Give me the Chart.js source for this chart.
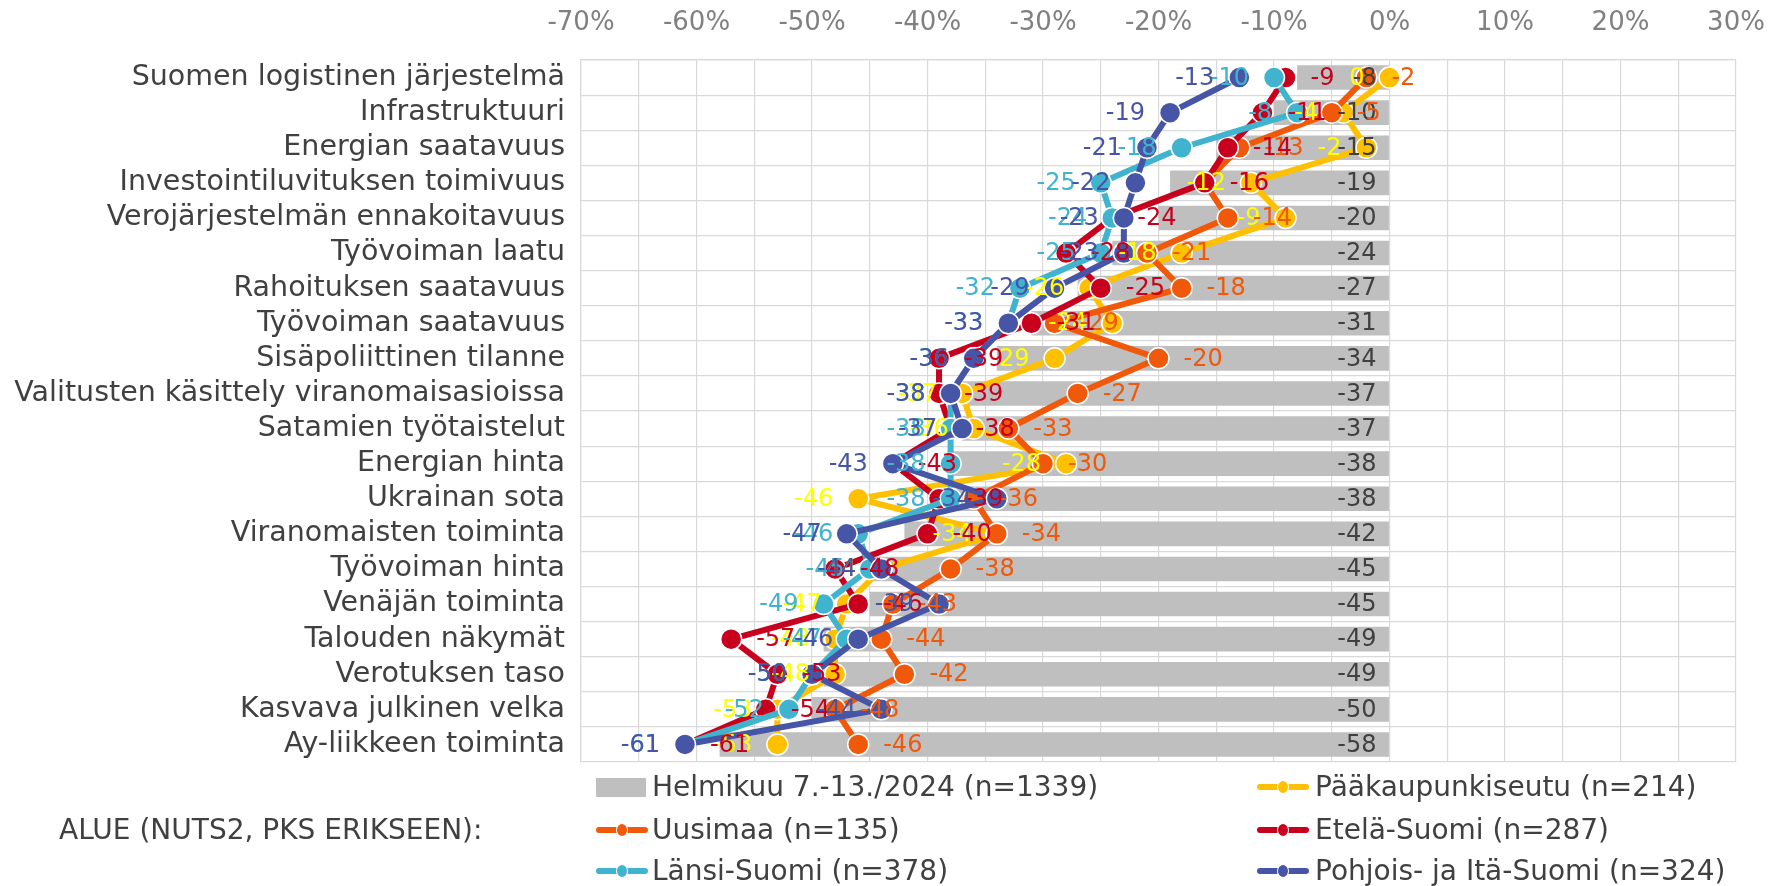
<!DOCTYPE html>
<html>
<head>
<meta charset="utf-8">
<script src="https://cdn.jsdelivr.net/npm/chart.js@4.4.1/dist/chart.umd.min.js"></script>
<style>
html,body{margin:0;padding:0;background:#ffffff;}
#wrap{position:relative;width:1770px;height:886px;overflow:hidden;}
#c{position:absolute;left:0;top:0;}
.lt{position:absolute;font-family:"DejaVu Sans";font-size:28px;color:#404040;white-space:nowrap;line-height:32px;height:32px;}
.mk{position:absolute;}
</style>
</head>
<body>
<div id="wrap">
<canvas id="c" width="1770" height="886"></canvas>
</div>
<script>
// ---- data ----
const categories = [
  "Suomen logistinen järjestelmä",
  "Infrastruktuuri",
  "Energian saatavuus",
  "Investointiluvituksen toimivuus",
  "Verojärjestelmän ennakoitavuus",
  "Työvoiman laatu",
  "Rahoituksen saatavuus",
  "Työvoiman saatavuus",
  "Sisäpoliittinen tilanne",
  "Valitusten käsittely viranomaisasioissa",
  "Satamien työtaistelut",
  "Energian hinta",
  "Ukrainan sota",
  "Viranomaisten toiminta",
  "Työvoiman hinta",
  "Venäjän toiminta",
  "Talouden näkymät",
  "Verotuksen taso",
  "Kasvava julkinen velka",
  "Ay-liikkeen toiminta"
];
const totalValues    = [-8, -10, -15, -19, -20, -24, -27, -31, -34, -37, -37, -38, -38, -42, -45, -45, -49, -49, -50, -58];
const pksValues      = [0, -4, -2, -12, -9, -18, -26, -24, -29, -37, -36, -28, -46, -34, -44, -47, -48, -48, -53, -53];
const uusimaaValues  = [-2, -5, -13, -16, -14, -21, -18, -29, -20, -27, -33, -30, -36, -34, -38, -43, -44, -42, -48, -46];
const etelaValues    = [-9, -11, -14, -16, -24, -28, -25, -31, -39, -39, -38, -43, -39, -40, -48, -46, -57, -53, -54, -61];
const lansiValues    = [-10, -8, -18, -25, -24, -25, -32, -33, -36, -38, -38, -38, -38, -46, -45, -49, -47, -50, -52, -61];
const pohjoisValues  = [-13, -19, -21, -22, -23, -23, -29, -33, -36, -38, -37, -43, -34, -47, -44, -39, -46, -50, -44, -61];
const seriesNames = [
  "Helmikuu 7.-13./2024 (n=1339)",
  "Pääkaupunkiseutu (n=214)",
  "Uusimaa (n=135)",
  "Etelä-Suomi (n=287)",
  "Länsi-Suomi (n=378)",
  "Pohjois- ja Itä-Suomi (n=324)"
];
const legendCaption = "ALUE (NUTS2, PKS ERIKSEEN):";
const xTickLabels = [-70, -60, -50, -40, -30, -20, -10, 0, 10, 20, 30];

// ---- styles ----
const FONT = '"DejaVu Sans"';
const colBar = '#BFBFBF';
const lineStyles = [
  {data: pksValues,     color: '#FFC000', label: '#FFFF00', side: 'left',  order: 5},
  {data: uusimaaValues, color: '#F0580A', label: '#F0580A', side: 'right', order: 4},
  {data: etelaValues,   color: '#C8001E', label: '#C8001E', side: 'right', order: 3},
  {data: lansiValues,   color: '#40B3CE', label: '#40B3CE', side: 'left',  order: 2},
  {data: pohjoisValues, color: '#4655A5', label: '#4655A5', side: 'left',  order: 1}
];

const datasets = [{
  type: 'bar',
  label: seriesNames[0],
  data: totalValues,
  backgroundColor: colBar,
  borderWidth: 0,
  barPercentage: 0.7,
  categoryPercentage: 1,
  order: 10
}];
lineStyles.forEach((s, k) => {
  datasets.push({
    type: 'line',
    label: seriesNames[k + 1],
    data: s.data,
    borderColor: s.color,
    backgroundColor: s.color,
    borderWidth: 6,
    borderJoinStyle: 'round',
    borderCapStyle: 'round',
    pointRadius: 10.5,
    pointBackgroundColor: s.color,
    pointBorderColor: '#ffffff',
    pointBorderWidth: 1.5,
    tension: 0,
    fill: false,
    order: s.order,
    labelColor: s.label,
    labelSide: s.side
  });
});

const valueLabels = {
  id: 'valueLabels',
  afterDatasetsDraw(chart) {
    const ctx = chart.ctx;
    const xs = chart.scales.x;
    ctx.save();
    ctx.font = '24px ' + FONT;
    ctx.textBaseline = 'middle';
    chart.data.datasets.forEach((ds, di) => {
      const meta = chart.getDatasetMeta(di);
      meta.data.forEach((el, i) => {
        const txt = String(ds.data[i]);
        if (ds.type === 'bar') {
          ctx.fillStyle = '#404040';
          ctx.textAlign = 'right';
          ctx.fillText(txt, xs.getPixelForValue(0) - 13, el.y + 1);
        } else {
          ctx.fillStyle = ds.labelColor;
          if (ds.labelSide === 'left') {
            ctx.textAlign = 'right';
            ctx.fillText(txt, el.x - 25, el.y + 1);
          } else {
            ctx.textAlign = 'left';
            ctx.fillText(txt, el.x + 25, el.y + 1);
          }
        }
      });
    });
    ctx.restore();
  }
};

new Chart(document.getElementById('c'), {
  data: {labels: categories, datasets: datasets},
  options: {
    indexAxis: 'y',
    responsive: false,
    animation: false,
    devicePixelRatio: 1,
    layout: {padding: {left: 0, right: 34, top: 0, bottom: 124}},
    plugins: {legend: {display: false}, tooltip: {enabled: false}},
    scales: {
      x: {
        type: 'linear',
        position: 'top',
        min: -70, max: 30,
        afterFit(scale) { scale.height = 60; scale.paddingLeft = 0; scale.paddingRight = 0; },
        ticks: {
          stepSize: 5,
          autoSkip: false,
          maxRotation: 0,
          padding: 21,
          color: '#808080',
          font: {family: FONT, size: 26},
          callback: (v) => xTickLabels.includes(v) ? v + '%' : ''
        },
        grid: {color: '#D9D9D9', lineWidth: 1.2, drawTicks: false},
        border: {color: '#D9D9D9', width: 1.2}
      },
      y: {
        type: 'category',
        afterFit(scale) { scale.width = 581; scale.paddingTop = 0; scale.paddingBottom = 0; },
        ticks: {
          autoSkip: false,
          padding: 16,
          color: '#404040',
          font: {family: FONT, size: 28.5}
        },
        grid: {color: '#D9D9D9', lineWidth: 1.2, drawTicks: false, offset: true},
        border: {color: '#D9D9D9', width: 1.2}
      }
    }
  },
  plugins: [valueLabels]
});

// ---- legend (HTML) ----
const wrap = document.getElementById('wrap');
function addText(txt, x, yc) {
  const d = document.createElement('div');
  d.className = 'lt';
  d.textContent = txt;
  d.style.left = x + 'px';
  d.style.top = (yc - 16) + 'px';
  wrap.appendChild(d);
}
function addBox(x, yc, color) {
  const d = document.createElement('div');
  d.className = 'mk';
  d.style.cssText += `left:${x}px;top:${yc - 9}px;width:50px;height:19px;background:${color};`;
  wrap.appendChild(d);
}
function addLineMark(x, yc, color) {
  const l = document.createElement('div');
  l.className = 'mk';
  l.style.cssText += `left:${x}px;top:${yc - 3}px;width:52px;height:6px;border-radius:3px;background:${color};`;
  wrap.appendChild(l);
  const c = document.createElement('div');
  c.className = 'mk';
  c.style.cssText += `left:${x + 20}px;top:${yc - 7}px;width:10px;height:12px;border-radius:50%;background:${color};border:1px solid #fff;`;
  wrap.appendChild(c);
}
const legRows = [787, 830, 871];
const col1 = {mark: 596, text: 652};
const col2 = {mark: 1257, text: 1315};
addBox(col1.mark, legRows[0], colBar);
addText(seriesNames[0], col1.text, legRows[0]);
addLineMark(col2.mark, legRows[0], lineStyles[0].color);
addText(seriesNames[1], col2.text, legRows[0]);
addText(legendCaption, 59, legRows[1]);
addLineMark(col1.mark, legRows[1], lineStyles[1].color);
addText(seriesNames[2], col1.text, legRows[1]);
addLineMark(col2.mark, legRows[1], lineStyles[2].color);
addText(seriesNames[3], col2.text, legRows[1]);
addLineMark(col1.mark, legRows[2], lineStyles[3].color);
addText(seriesNames[4], col1.text, legRows[2]);
addLineMark(col2.mark, legRows[2], lineStyles[4].color);
addText(seriesNames[5], col2.text, legRows[2]);
</script>
</body>
</html>
